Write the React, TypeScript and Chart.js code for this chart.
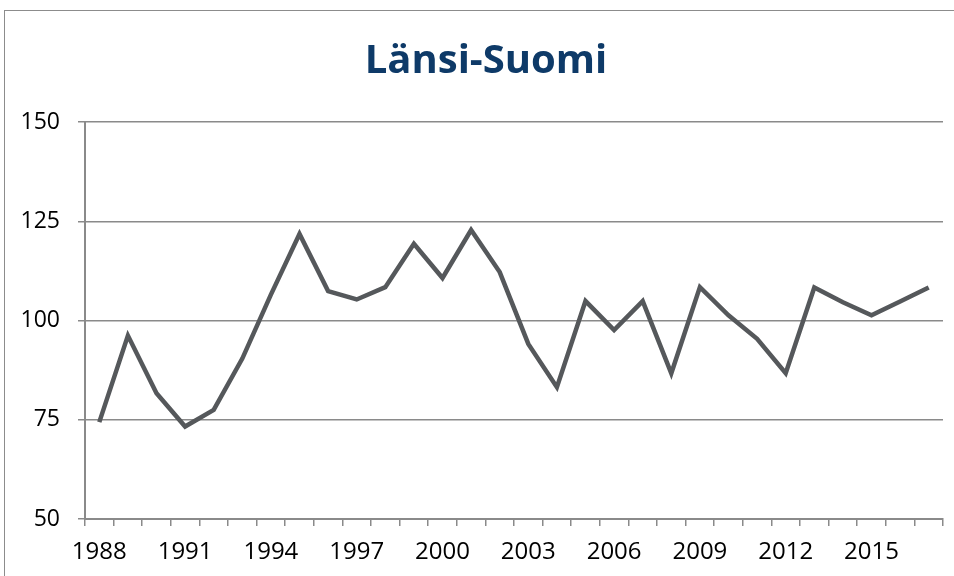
import React, { useEffect, useRef } from "react";
import { Chart, registerables } from "chart.js";

Chart.register(...registerables);

const years: string[] = [
  "1988", "1989", "1990", "1991", "1992", "1993", "1994", "1995", "1996", "1997",
  "1998", "1999", "2000", "2001", "2002", "2003", "2004", "2005", "2006", "2007",
  "2008", "2009", "2010", "2011", "2012", "2013", "2014", "2015", "2016", "2017",
];

const values: number[] = [
  74.4, 96.2, 81.7, 73.3, 77.5, 90.4, 106.5, 121.8, 107.4, 105.3,
  108.4, 119.3, 110.7, 122.8, 112.2, 94.1, 83.2, 104.9, 97.6, 104.9,
  86.7, 108.4, 101.3, 95.4, 86.7, 108.3, 104.6, 101.3, 104.8, 108.3,
];

const yTicks: number[] = [50, 75, 100, 125, 150];
const titleText = "Länsi-Suomi";

const FONT = "'Open Sans', 'Liberation Sans', sans-serif";
const GRID = "#8a8a8a";

const framePlugin = {
  id: "frame",
  beforeDraw(chart: any) {
    const ctx = chart.ctx;
    ctx.save();
    ctx.fillStyle = "#ffffff";
    ctx.fillRect(0, 0, chart.width, chart.height);
    ctx.strokeStyle = "#8c8c8c";
    ctx.lineWidth = 1;
    ctx.strokeRect(4.5, 10.5, 2000, 2000);
    ctx.restore();
  },
  afterDraw(chart: any) {
    const ctx = chart.ctx;
    ctx.save();
    ctx.fillStyle = "#0e3a68";
    ctx.font = `bold 40px ${FONT}`;
    ctx.textAlign = "center";
    ctx.textBaseline = "middle";
    ctx.fillText(titleText, 486, 62);
    ctx.restore();
  },
};

export default function App() {
  const ref = useRef<HTMLCanvasElement | null>(null);

  useEffect(() => {
    if (!ref.current) return;
    const chart = new Chart(ref.current, {
      type: "line",
      data: {
        labels: years,
        datasets: [
          {
            data: values,
            borderColor: "#55585b",
            borderWidth: 4.5,
            pointRadius: 0,
            tension: 0,
            fill: false,
          },
        ],
      },
      options: {
        responsive: false,
        animation: false,
        layout: { padding: { left: 0, right: 11, top: 122, bottom: 0 } },
        plugins: {
          legend: { display: false },
          tooltip: { enabled: false },
          title: { display: false },
        },
        scales: {
          x: {
            type: "category",
            offset: true,
            grid: {
              display: true,
              offset: true,
              drawOnChartArea: false,
              drawTicks: true,
              tickLength: 7,
              color: GRID,
              lineWidth: 1.5,
            },
            border: { display: true, color: GRID, width: 2 },
            ticks: {
              autoSkip: false,
              maxRotation: 0,
              minRotation: 0,
              padding: 12,
              color: "#000000",
              font: { family: FONT, size: 24 },
              callback: (_v: any, i: number) => (i % 3 === 0 ? years[i] : ""),
            },
            afterFit: (s: any) => {
              s.height = 57;
            },
          },
          y: {
            min: 50,
            max: 150,
            afterBuildTicks: (s: any) => {
              s.ticks = yTicks.map((v) => ({ value: v }));
            },
            grid: {
              color: GRID,
              lineWidth: 1.5,
              tickLength: 7,
              drawTicks: true,
            },
            border: { display: true, color: GRID, width: 2 },
            ticks: {
              padding: 18,
              color: "#000000",
              font: { family: FONT, size: 23 },
            },
            afterFit: (s: any) => {
              s.width = 85;
            },
          },
        },
      },
      plugins: [framePlugin],
    });
    return () => chart.destroy();
  }, []);

  return (
    <div style={{ position: "absolute", left: 0, top: 0, width: 954, height: 576, background: "#fff" }}>
      <canvas ref={ref} width={954} height={576} style={{ display: "block" }} />
    </div>
  );
}
